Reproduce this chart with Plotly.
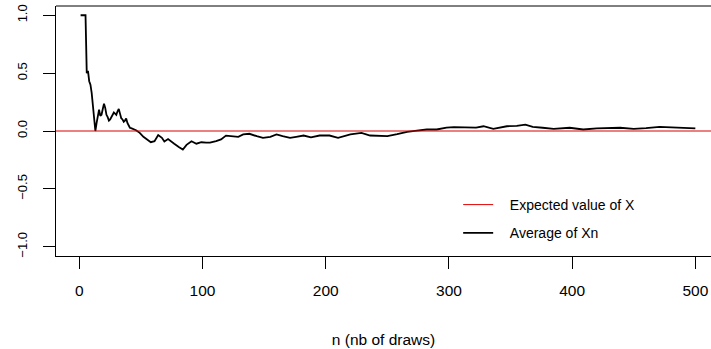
import plotly.graph_objects as go

# ---- data ----
N_DRAWS = [1, 2, 3, 4, 5, 6, 7, 8, 9, 10, 11, 12, 13, 14, 15, 16, 17, 18, 19, 20,
           21, 22, 23, 24, 25, 26, 27, 28, 29, 30, 31, 32, 33, 34, 35, 36, 37, 38, 39, 40,
           41, 42, 44, 46, 49, 52, 55, 58, 61, 64, 67, 69, 72, 75, 77, 81, 84, 87, 91, 95,
           99, 103, 106, 111, 115, 119, 123, 129, 133, 138, 144, 149, 155, 160, 165, 171, 176, 182, 188, 195,
           203, 210, 220, 229, 236, 244, 250, 258, 266, 274, 282, 290, 298, 304, 314, 322, 328, 336, 347, 355,
           362, 368, 376, 385, 398, 409, 420, 431, 439, 450, 460, 471, 482, 490, 500]
AVG_XN = [1.0, 1.0, 1.0, 1.0, 1.0, 0.50, 0.52, 0.43, 0.40, 0.33, 0.22, 0.11, 0.0, 0.07, 0.13, 0.185, 0.13, 0.14, 0.19, 0.235,
          0.20, 0.14, 0.12, 0.09, 0.10, 0.12, 0.14, 0.16, 0.15, 0.14, 0.17, 0.19, 0.15, 0.11, 0.10, 0.08, 0.09, 0.108, 0.07, 0.04,
          0.028, 0.025, 0.019, 0.007, -0.016, -0.05, -0.073, -0.097, -0.088, -0.035, -0.059, -0.09, -0.07, -0.09, -0.11, -0.14, -0.16, -0.12, -0.088, -0.11,
          -0.097, -0.10, -0.10, -0.088, -0.073, -0.04, -0.045, -0.05, -0.03, -0.024, -0.045, -0.059, -0.05, -0.03, -0.045, -0.059, -0.05, -0.039, -0.055, -0.039,
          -0.039, -0.059, -0.03, -0.016, -0.039, -0.045, -0.045, -0.028, -0.007, 0.004, 0.013, 0.013, 0.03, 0.033, 0.033, 0.03, 0.041, 0.019, 0.041, 0.045,
          0.055, 0.036, 0.028, 0.019, 0.028, 0.013, 0.022, 0.022, 0.028, 0.019, 0.024, 0.036, 0.03, 0.03, 0.022]
EXPECTED_VALUE = 0.0
X_TICKS = [0, 100, 200, 300, 400, 500]
Y_TICKS = [-1.0, -0.5, 0.0, 0.5, 1.0]
X_LABEL = "n (nb of draws)"
NAME_EXPECTED = "Expected value of X"
NAME_AVERAGE = "Average of Xn"

FONT = "Liberation Sans, Arial, Helvetica, sans-serif"
PAD = "\u00a0\u00a0\u00a0"

fig = go.Figure()
# legend key for the expected-value line (the line itself is a full-width hline)
fig.add_trace(go.Scatter(
    x=[None], y=[None], mode="lines",
    line=dict(color="#e00000", width=1),
    name=PAD + NAME_EXPECTED, legendrank=1, legendgroup="a",
))
fig.add_trace(go.Scatter(
    x=N_DRAWS, y=AVG_XN, mode="lines",
    line=dict(color="black", width=1.8),
    name=PAD + NAME_AVERAGE, legendrank=2, legendgroup="b",
))
fig.add_hline(y=EXPECTED_VALUE, line_color="#e00000", line_width=1.2)

# top border of the R box (right side of the box lies beyond the picture)
fig.add_shape(type="line", xref="paper", yref="paper", x0=0, x1=1, y0=1, y1=1,
              line=dict(color="black", width=1))

fig.update_layout(
    width=711, height=349,
    margin=dict(l=56, r=0, t=6, b=93),
    plot_bgcolor="white", paper_bgcolor="white",
    font=dict(family=FONT, color="black"),
    showlegend=True,
    legend=dict(
        x=0.614, y=0.268, xanchor="left", yanchor="top",
        bgcolor="rgba(0,0,0,0)", font=dict(size=14, family=FONT, color="black"),
        tracegroupgap=7, itemwidth=30,
    ),
    xaxis=dict(
        range=[-18.96, 512.7], tickvals=X_TICKS, ticks="outside", ticklen=12,
        tickwidth=1, tickcolor="black", showline=True, linecolor="black", linewidth=1,
        showgrid=False, zeroline=False, tickfont=dict(size=15.5),
        ticklabelstandoff=8,
        title=dict(text=X_LABEL, font=dict(size=15.5), standoff=36),
    ),
    yaxis=dict(
        range=[-1.08, 1.08], tickvals=Y_TICKS, tickformat=".1f", tickangle=-90,
        ticks="outside", ticklen=12, tickwidth=1, tickcolor="black",
        showline=True, linecolor="black", linewidth=1,
        showgrid=False, zeroline=False, tickfont=dict(size=13),
        ticklabelstandoff=11,
    ),
)

fig.write_html("out.html", config={"displayModeBar": False},
               post_script="document.body.style.margin='0px';")
